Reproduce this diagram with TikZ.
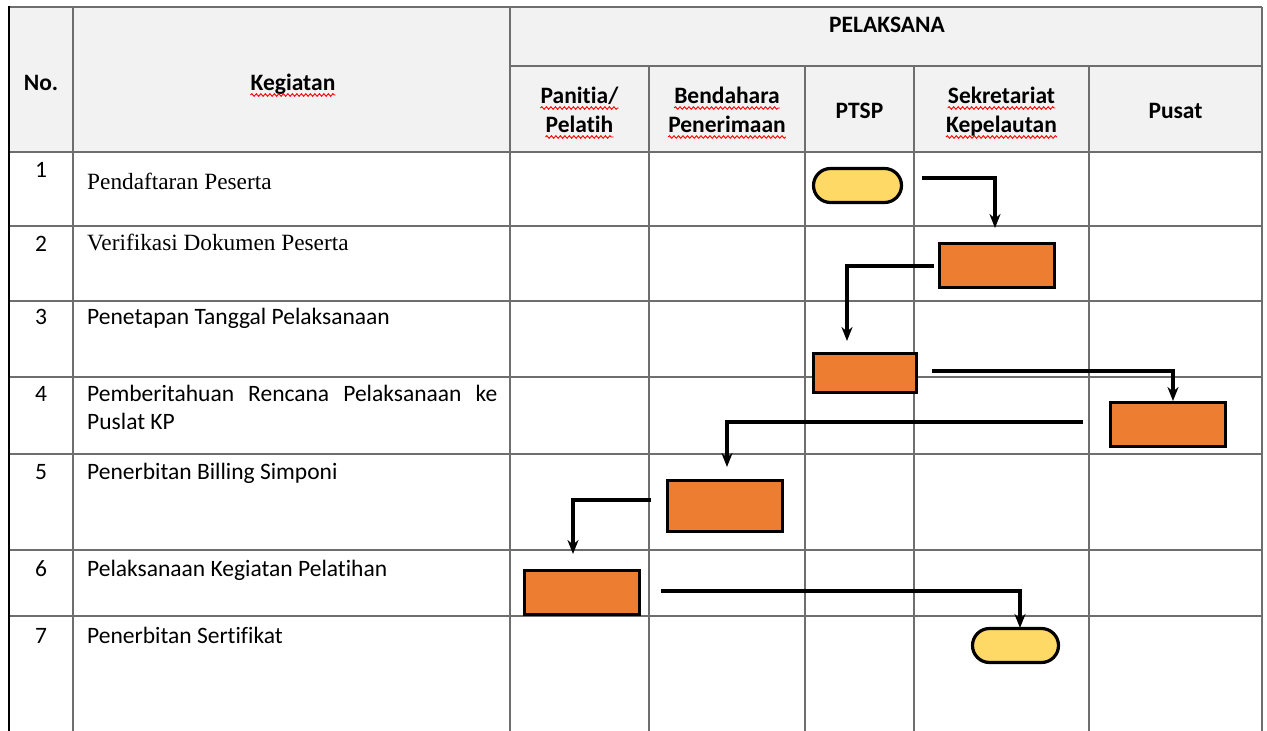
\documentclass[tikz,border=0pt]{standalone}
\usepackage{fontspec}
\setmainfont{Carlito}[Ligatures={NoCommon}]
\newfontfamily\timesf{Liberation Serif}
\usetikzlibrary{arrows.meta,decorations.pathmorphing}
\definecolor{hdr}{HTML}{F2F2F2}
\definecolor{yel}{HTML}{FFD966}
\definecolor{ora}{HTML}{ED7D31}
\definecolor{gridc}{HTML}{6E6E6E}
\begin{document}
\begin{tikzpicture}[x=1pt,y=-1pt,
  gridline/.style={draw=gridc, line width=1.4pt},
  term/.style={draw=black, line width=3.2pt, fill=yel, rounded corners=17pt, inner sep=0pt},
  proc/.style={draw=black, line width=3.2pt, fill=ora, inner sep=0pt},
  arr/.style={draw=black, line width=3.2pt, -{Stealth[length=14pt,width=11pt,inset=4.5pt]}},
  txt/.style={anchor=base west, inner sep=0pt, font=\fontsize{23.5}{28}\selectfont},
  ttxt/.style={anchor=base west, inner sep=0pt, font=\timesf\fontsize{23.3}{28}\selectfont},
  num/.style={anchor=base, inner sep=0pt, font=\fontsize{23.5}{28}\selectfont},
  hd/.style={anchor=base, inner sep=0pt, font=\bfseries\fontsize{23.5}{28}\selectfont},
  spell/.style={draw=red, line width=0.9pt, decorate, decoration={snake, amplitude=1.3pt, segment length=4.5pt}}
]
\useasboundingbox (0,0) rectangle (1267,731);
% header background
\fill[hdr] (9,7) rectangle (1262,152);
% horizontal lines
\draw[gridline] (9,7) -- (1262,7);
\draw[gridline] (510,66) -- (1262,66);
\foreach \y in {152,226,301,377,454,550,616}
  \draw[gridline] (9,\y) -- (1262,\y);
% vertical lines
\draw[gridline] (73,7) -- (73,731);
\draw[gridline] (510,7) -- (510,731);
\draw[gridline] (1262,7) -- (1262,731);
\foreach \x in {649,805,914,1089}
  \draw[gridline] (\x,66) -- (\x,731);
\draw[draw=black, line width=2.8pt] (9,6) -- (9,731);

% header texts
\node[hd] (hno) at (41,90) {No.};
\node[hd] (hkeg) at (293,90) {Kegiatan};
\node[hd] (hpel) at (887,32) {PELAKSANA};
\node[hd] (hpa) at (579.5,103) {Panitia/};
\node[hd] (hpb) at (579.5,132) {Pelatih};
\node[hd] (hba) at (727,103) {Bendahara};
\node[hd] (hbb) at (727,132) {Penerimaan};
\node[hd] (hptsp) at (859.5,118) {PTSP};
\node[hd] (hsa) at (1001.5,103) {Sekretariat};
\node[hd] (hsb) at (1001.5,132) {Kepelautan};
\node[hd] (hpus) at (1175.5,118) {Pusat};
\foreach \n in {hkeg,hpa,hpb,hba,hbb,hsa,hsb}
  \draw[spell] ([yshift=-5pt]\n.base west) -- ([yshift=-5pt]\n.base east);

% row texts
\node[num] (n1) at (41,177) {1};
\node[num] (n2) at (41,251) {2};
\node[num] (n3) at (41,324) {3};
\node[num] (n4) at (41,401) {4};
\node[num] (n5) at (41,479) {5};
\node[num] (n6) at (41,576) {6};
\node[num] (n7) at (41,643) {7};
\node[ttxt] (k1) at (87,189) {Pendaftaran Peserta};
\node[ttxt] (k2) at (87,250) {Verifikasi Dokumen Peserta};
\node[txt] (k3) at (87,324) {Penetapan Tanggal Pelaksanaan};
\node[txt] (k4a) at (87,401) {\makebox[410pt][s]{Pemberitahuan Rencana Pelaksanaan ke}};
\node[txt] (k4b) at (87,429) {Puslat KP};
\node[txt] (k5) at (87,479) {Penerbitan Billing Simponi};
\node[txt] (k6) at (87,576) {Pelaksanaan Kegiatan Pelatihan};
\node[txt] (k7) at (87,643) {Penerbitan Sertifikat};

% shapes
\node[term, minimum width=88pt, minimum height=34pt] (s1) at (857.5,185.5) {};
\node[proc, minimum width=115pt, minimum height=44pt] (s2) at (997,265.5) {};
\node[proc, minimum width=103pt, minimum height=39pt] (s3) at (865,373) {};
\node[proc, minimum width=115pt, minimum height=44pt] (s4) at (1168,424.5) {};
\node[proc, minimum width=115pt, minimum height=51pt] (s5) at (725,506) {};
\node[proc, minimum width=115pt, minimum height=44pt] (s6) at (582,592.5) {};
\node[term, minimum width=86pt, minimum height=34pt] (s7) at (1015.5,645.5) {};

% connectors
\coordinate (a1s) at (922,178);  \coordinate (a1e) at (995,228);
\coordinate (a2s) at (934,266);  \coordinate (a2e) at (847,341);
\coordinate (a3s) at (932,371);  \coordinate (a3e) at (1173,401);
\coordinate (a4s) at (1083,422); \coordinate (a4e) at (727,467);
\coordinate (a5s) at (651,500);  \coordinate (a5e) at (573,554);
\coordinate (a6s) at (661,591);  \coordinate (a6e) at (1020,628);
\draw[arr] (a1s) -| (a1e);
\draw[arr] (a2s) -| (a2e);
\draw[arr] (a3s) -| (a3e);
\draw[arr] (a4s) -| (a4e);
\draw[arr] (a5s) -| (a5e);
\draw[arr] (a6s) -| (a6e);
\end{tikzpicture}
\end{document}
